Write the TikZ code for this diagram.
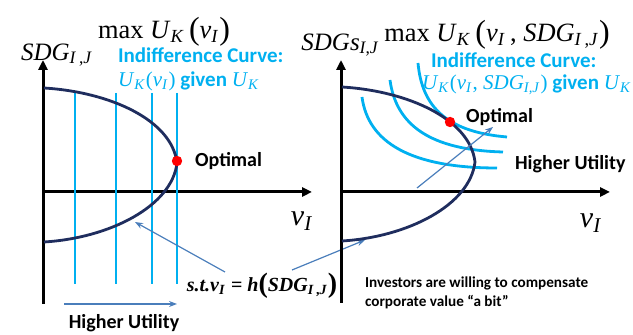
\documentclass[tikz,border=0pt]{standalone}
\usepackage{fontspec}
\newfontfamily\calib{Carlito}
\newfontfamily\tnr{Liberation Serif}
\usetikzlibrary{arrows.meta}
\definecolor{navyline}{HTML}{1F2D5E}
\definecolor{indiffblue}{HTML}{00B0F0}
\definecolor{pointblue}{HTML}{4A7EBB}
\newcommand{\vsub}[2]{\textit{#1}\textsubscript{\textit{#2}}}
\newcommand{\bigpar}[2][16]{{\fontsize{#1}{#1}\selectfont\raisebox{-0.5pt}{#2}}}
\newcommand{\cmath}[1]{{\tnr\mdseries\fontsize{10.5}{12}\selectfont #1}}
\tikzset{
  axis/.style={line width=1.5pt, -{Triangle[length=5pt,width=4.5pt]}},
  frontier/.style={draw=navyline, line width=1.4pt},
  indiff/.style={draw=indiffblue, line width=1.4pt},
  pointer/.style={draw=pointblue, line width=0.6pt, -{Stealth[length=4pt,width=3pt]}},
  cyantext/.style={text=indiffblue, font=\calib\bfseries\fontsize{10.5}{12}\selectfont},
  bigmath/.style={inner sep=1pt, font=\tnr\fontsize{13.2}{15}\selectfont},
  axislab/.style={inner sep=1pt, font=\tnr\fontsize{12.5}{14}\selectfont},
}
\begin{document}
\begin{tikzpicture}[x=0.5pt, y=-0.5pt, font=\calib\bfseries\fontsize{10}{12}\selectfont]
  \useasboundingbox (0,0) rectangle (633,335);
  % left panel
  \draw[axis] (43,304) -- (43,60);
  \draw[axis] (43,192) -- (312,192);
  \foreach \x in {75,116,152,177}
    \draw[indiff] (\x,93) -- (\x,284);
  \draw[frontier] (44,88) .. controls (110,92) and (172,120) .. (177,163)
    .. controls (172,206) and (110,238) .. (44,242);
  \coordinate (optPtL) at (177,161);
  \fill[red] (optPtL) circle (2.6pt);
  \node[anchor=west] (optL) at (188,161) {Optimal};
  \node[bigmath] (titleL) at (164,32) {max \vsub{U}{K}\,\bigpar{(}\vsub{v}{I}\bigpar{)}};
  \node[axislab] (sdgL) at (57,55) {\textit{SDG}\textsubscript{\textit{I}\,,\textit{J}}};
  \node[cyantext, anchor=west] (indL) at (111,55) {Indifference Curve:};
  \node[cyantext, anchor=west] (ucL) at (111,81) {\cmath{\vsub{U}{K}(\vsub{v}{I})} given \cmath{\vsub{U}{K}}};
  \node[axislab, font=\tnr\fontsize{15}{15}\selectfont] (vL) at (302,221) {\vsub{v}{I}};
  \node[inner sep=1pt, font=\tnr\bfseries\fontsize{10}{12}\selectfont] (cons) at (262,286)
    {\textit{s.t.}\vsub{v}{I} = \textit{h}\bigpar[14]{(}\textit{SDG}\textsubscript{\textit{I}\,,\textit{J}}\bigpar[14]{)}};
  \coordinate (consStartL) at (225,272);
  \coordinate (consStartR) at (292,270);
  \coordinate (curvePtL) at (135,222);
  \coordinate (curvePtR) at (365,240);
  \draw[pointer] (consStartL) -- (curvePtL);
  \draw[pointer] (consStartR) -- (curvePtR);
  \coordinate (hiStartL) at (64,304);
  \coordinate (hiEndL) at (177,304);
  \draw[pointer] (hiStartL) -- (hiEndL);
  \node (highL) at (124,323) {Higher Utility};
  % right panel
  \draw[axis] (341,303) -- (341,60);
  \draw[axis] (341,192) -- (610,192);
  \draw[indiff] (418,63) .. controls (422,108) and (448,132) .. (507,137);
  \draw[indiff] (390,80) .. controls (396,125) and (430,150) .. (503,152);
  \draw[indiff] (362,97) .. controls (368,142) and (410,168) .. (497,168);
  \draw[frontier] (342,87) .. controls (408,91) and (470,119) .. (475,162)
    .. controls (470,205) and (408,237) .. (342,241);
  \coordinate (optPtR) at (450,122);
  \fill[red] (optPtR) circle (2.6pt);
  \node[anchor=west] (optR) at (459,117) {Optimal};
  \coordinate (hiStartR) at (417,188);
  \coordinate (hiEndR) at (493,127);
  \draw[pointer] (hiStartR) -- (hiEndR);
  \node[anchor=west] (highR) at (508,164) {Higher Utility};
  \node[bigmath, anchor=west] (titleR) at (382,35)
    {max \vsub{U}{K}\,\bigpar{(}\vsub{v}{I}\,, \textit{SDG}\textsubscript{\textit{I}\,,\textit{J}}\bigpar{)}};
  \node[axislab, anchor=west] (sdgR) at (299,45) {\textit{SDGs}\textsubscript{\textit{I},\textit{J}}};
  \node[cyantext, anchor=west] (indR) at (424,60) {Indifference Curve:};
  \node[cyantext, anchor=west] (ucR) at (415,85)
    {\cmath{\vsub{U}{K}(\vsub{v}{I}, \textit{SDG}\textsubscript{\textit{I,J}})} given \cmath{\vsub{U}{K}}};
  \node[axislab, font=\tnr\fontsize{15}{15}\selectfont] (vR) at (591,223) {\vsub{v}{I}};
  \node[anchor=north west, align=left, font=\calib\bfseries\fontsize{7.6}{9.5}\selectfont] (note) at (358,270)
    {Investors are willing to compensate\\corporate value “a bit”};
\end{tikzpicture}
\end{document}
